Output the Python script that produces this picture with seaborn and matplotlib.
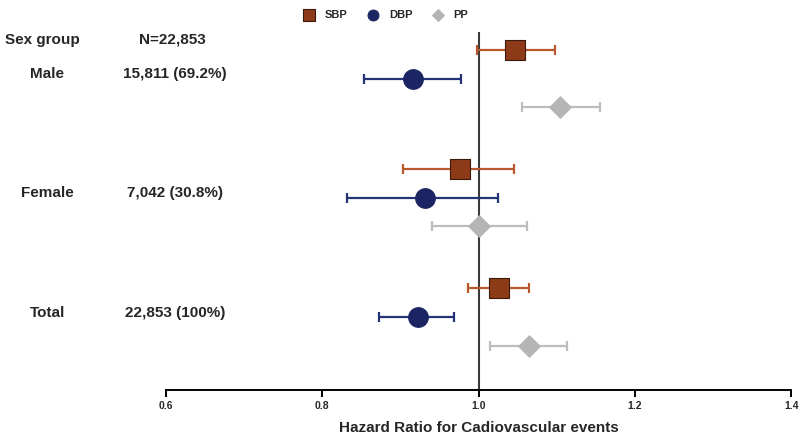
'''
Forest plot of hazard ratios by sex group for SBP, DBP and PP
'''

import seaborn as sns
import matplotlib.pyplot as plt
import matplotlib.transforms as mtransforms
import pandas as pd

# Data
groups = ['Male', 'Female', 'Total']
counts = ['15,811 (69.2%)', '7,042 (30.8%)', '22,853 (100%)']
measures = ['SBP', 'DBP', 'PP']

hr_sbp = [1.047, 0.976, 1.026]
lo_sbp = [0.998, 0.903, 0.986]
hi_sbp = [1.098, 1.045, 1.065]

hr_dbp = [0.916, 0.932, 0.922]
lo_dbp = [0.853, 0.831, 0.873]
hi_dbp = [0.978, 1.025, 0.969]

hr_pp = [1.104, 1.001, 1.065]
lo_pp = [1.056, 0.941, 1.014]
hi_pp = [1.155, 1.062, 1.113]

xticks = [0.6, 0.8, 1.0, 1.2, 1.4]

rows = []
for m, hr, lo, hi in zip(measures, [hr_sbp, hr_dbp, hr_pp],
                         [lo_sbp, lo_dbp, lo_pp], [hi_sbp, hi_dbp, hi_pp]):
    for g, h, l, u in zip(groups, hr, lo, hi):
        rows.append({'group': g, 'measure': m, 'hr': h, 'lo': l, 'hi': u})
df = pd.DataFrame(rows)

# vertical layout: groups spaced apart, three rows per group
group_gap = 4.15
df['y'] = (df['group'].map({g: i for i, g in enumerate(groups)}) * group_gap
           + df['measure'].map({m: i for i, m in enumerate(measures)}))

sns.set_style('white')
plt.rcParams['font.family'] = ['Liberation Sans', 'DejaVu Sans']
plt.rcParams['font.weight'] = 'bold'

fig = plt.figure(figsize=(8, 4.37), dpi=100)
ax = fig.add_axes([0.2075, 0.1076, 0.7815, 0.8194])

bar_colors = {'SBP': '#b8582c', 'DBP': '#243378', 'PP': '#bdbdbd'}
face_colors = {'SBP': '#8c3a18', 'DBP': '#1c2563', 'PP': '#b5b5b5'}
edge_colors = {'SBP': '#3a1a0a', 'DBP': '#1c2563', 'PP': '#b5b5b5'}
markers = {'SBP': 's', 'DBP': 'o', 'PP': 'D'}
sizes = {'SBP': 210, 'DBP': 200, 'PP': 120}

ax.axvline(1.0, color='#3a3a3a', lw=1.5, zorder=1)

for m in measures:
    d = df[df['measure'] == m]
    ax.errorbar(d['hr'], d['y'], xerr=[d['hr'] - d['lo'], d['hi'] - d['hr']],
                fmt='none', ecolor=bar_colors[m], elinewidth=1.6,
                capsize=3.5, capthick=1.6, zorder=2)
    sns.scatterplot(x='hr', y='y', data=d, ax=ax, marker=markers[m],
                    s=sizes[m], color=face_colors[m],
                    edgecolor=edge_colors[m], linewidth=0.8,
                    zorder=3, label=m)

ax.set_xlim(0.6, 1.4)
ax.set_ylim(11.85, -0.63)
ax.set_xticks(xticks)
ax.set_xticklabels([f'{t:.1f}' for t in xticks], fontsize=7.5, fontweight='bold')
ax.set_yticks([])
ax.set_ylabel('')
ax.set_xlabel('Hazard Ratio for Cadiovascular events', fontsize=11,
              fontweight='bold', labelpad=7)
ax.tick_params(axis='x', direction='out', length=5, width=1.4,
               color='black', bottom=True, pad=3)
for side in ['left', 'right', 'top']:
    ax.spines[side].set_visible(False)
ax.spines['bottom'].set_linewidth(1.4)
ax.spines['bottom'].set_color('black')

# left-hand table of labels
trans = mtransforms.blended_transform_factory(fig.transFigure, ax.transData)
ax.text(0.053, -0.35, 'Sex group', transform=trans, ha='center', va='center',
        fontsize=11, fontweight='bold')
ax.text(0.215, -0.35, 'N=22,853', transform=trans, ha='center', va='center',
        fontsize=11, fontweight='bold')
for i, (g, c) in enumerate(zip(groups, counts)):
    y = i * group_gap + 0.85
    ax.text(0.059, y, g, transform=trans, ha='center', va='center',
            fontsize=11, fontweight='bold')
    ax.text(0.219, y, c, transform=trans, ha='center', va='center',
            fontsize=11, fontweight='bold')

ax.get_legend().remove()
handles, labels = ax.get_legend_handles_labels()
fig.legend(handles, labels, loc='upper center', bbox_to_anchor=(0.479, 1.0),
           ncol=3, frameon=False, markerscale=0.55,
           handletextpad=0.4, columnspacing=1.3,
           prop={'weight': 'bold', 'size': 8})

fig.savefig('out.png', dpi=100)
plt.close(fig)
